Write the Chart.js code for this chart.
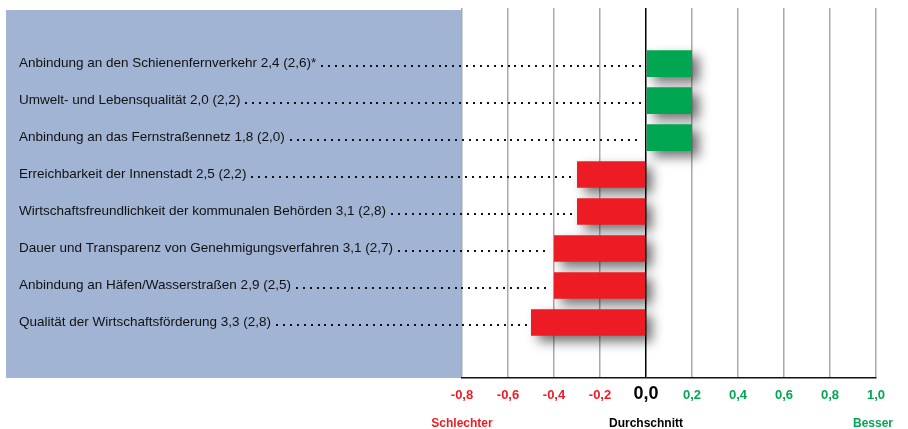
<!DOCTYPE html>
<html lang="de">
<head>
<meta charset="utf-8">
<title>Standortfaktoren im Vergleich zum Durchschnitt</title>
<script src="https://cdn.jsdelivr.net/npm/chart.js@4.4.1/dist/chart.umd.min.js"></script>
<style>
  html, body { margin: 0; padding: 0; background: #ffffff; }
  #wrap { width: 908px; height: 429px; position: relative; }
</style>
</head>
<body>
<div id="wrap"><canvas id="chart" width="908" height="429"></canvas></div>
<script>
// Standortfaktoren: eigene Note und (in Klammern) Durchschnittsnote
const factors = [
  'Anbindung an den Schienenfernverkehr',
  'Umwelt- und Lebensqualität',
  'Anbindung an das Fernstraßennetz',
  'Erreichbarkeit der Innenstadt',
  'Wirtschaftsfreundlichkeit der kommunalen Behörden',
  'Dauer und Transparenz von Genehmigungsverfahren',
  'Anbindung an Häfen/Wasserstraßen',
  'Qualität der Wirtschaftsförderung'
];
const scores   = [2.4, 2.0, 1.8, 2.5, 3.1, 3.1, 2.9, 3.3];
const averages = [2.6, 2.2, 2.0, 2.2, 2.8, 2.7, 2.5, 2.8];
const notes    = ['*', '', '', '', '', '', '', ''];

// Achsenbeschriftung der Abweichung
const xTicks = [-0.8, -0.6, -0.4, -0.2, 0.0, 0.2, 0.4, 0.6, 0.8, 1.0];
const xCaptions = ['Schlechter', 'Durchschnitt', 'Besser'];

const RED = '#ED1C24';
const GREEN = '#00A651';
const BLACK = '#000000';
const FONT = "'Liberation Sans', Arial, Helvetica, sans-serif";

const fmt = v => v.toFixed(1).replace('.', ',');

// Abweichung vom Durchschnitt (positiv = besser, da niedrigere Note besser ist)
const deviation = scores.map((s, i) => Math.round((averages[i] - s) * 10) / 10);

const rowLabels = factors.map((f, i) => `${f} ${fmt(scores[i])} (${fmt(averages[i])})${notes[i]}`);
// leere Zeile oben und unten als Rand
const labels = [''].concat(rowLabels, ['']);
const values = [null].concat(deviation, [null]);

const LABEL_SIZE = 13.5;
const LABEL_FONT = `${LABEL_SIZE}px ${FONT}`;
const PANEL = { left: 6, top: 10 };

const decorPlugin = {
  id: 'decor',
  beforeDraw(chart) {
    const { ctx, chartArea } = chart;
    ctx.save();
    ctx.fillStyle = '#A1B4D4';
    ctx.fillRect(PANEL.left, PANEL.top, chartArea.left - PANEL.left, chartArea.bottom - PANEL.top);
    ctx.restore();
  },
  beforeDatasetsDraw(chart) {
    // punktierte Führungslinien vom Text bis zum Balken
    const { ctx } = chart;
    const x = chart.scales.x, y = chart.scales.y;
    const zero = x.getPixelForValue(0);
    ctx.save();
    ctx.font = LABEL_FONT;
    ctx.fillStyle = '#111';
    labels.forEach((lab, i) => {
      if (!lab) return;
      const v = values[i];
      const cy = y.getPixelForValue(i);
      const start = y.left + ctx.measureText(lab).width + 5;
      const end = (v < 0 ? x.getPixelForValue(v) : zero) - 6;
      for (let px = start; px <= end; px += 6.9) {
        ctx.fillRect(Math.round(px), Math.round(cy + 1.5), 2, 2);
      }
    });
    ctx.restore();
  },
  beforeDatasetDraw(chart) {
    const { ctx } = chart;
    ctx.save();
    ctx.shadowColor = 'rgba(0,0,0,0.55)';
    ctx.shadowBlur = 12;
    ctx.shadowOffsetX = 7;
    ctx.shadowOffsetY = 6;
  },
  afterDatasetDraw(chart) {
    chart.ctx.restore();
  },
  afterDraw(chart) {
    const { ctx, chartArea } = chart;
    const x = chart.scales.x;
    ctx.save();
    ctx.textAlign = 'center';
    ctx.textBaseline = 'alphabetic';
    xTicks.forEach(v => {
      const px = x.getPixelForValue(v);
      if (v === 0) {
        ctx.font = `bold 18px ${FONT}`;
        ctx.fillStyle = BLACK;
      } else {
        ctx.font = `bold 13px ${FONT}`;
        ctx.fillStyle = v < 0 ? RED : GREEN;
      }
      ctx.fillText(fmt(v), px, chartArea.bottom + 21);
    });
    ctx.font = `bold 12px ${FONT}`;
    const capY = chartArea.bottom + 49;
    ctx.fillStyle = RED;
    ctx.fillText(xCaptions[0], x.getPixelForValue(-0.8), capY);
    ctx.fillStyle = BLACK;
    ctx.fillText(xCaptions[1], x.getPixelForValue(0), capY);
    ctx.fillStyle = GREEN;
    ctx.fillText(xCaptions[2], x.getPixelForValue(1.0) - 3, capY);
    ctx.restore();
  }
};

new Chart(document.getElementById('chart'), {
  type: 'bar',
  data: {
    labels: labels,
    datasets: [{
      data: values,
      backgroundColor: values.map(v => (v !== null && v < 0 ? RED : GREEN)),
      borderWidth: 0,
      barPercentage: 0.72,
      categoryPercentage: 1.0
    }]
  },
  options: {
    indexAxis: 'y',
    responsive: false,
    animation: false,
    layout: { padding: { left: 19, top: 8, right: 32, bottom: 0 } },
    plugins: {
      legend: { display: false },
      tooltip: { enabled: false },
      title: { display: false }
    },
    scales: {
      x: {
        type: 'linear',
        position: 'bottom',
        min: -0.8,
        max: 1.0,
        afterBuildTicks(scale) {
          scale.ticks = xTicks.map(v => ({ value: v }));
        },
        afterFit(scale) { scale.height = 51; },
        ticks: { display: false },
        grid: {
          drawTicks: false,
          color: c => (c.tick && c.tick.value === 0 ? '#000000' : '#A9A9A9'),
          lineWidth: 1.5
        },
        border: { display: true, color: '#111111', width: 1.5 }
      },
      y: {
        type: 'category',
        position: 'left',
        afterFit(scale) { scale.width = 462 - 19; },
        ticks: {
          crossAlign: 'far',
          color: '#111111',
          font: { family: FONT, size: LABEL_SIZE },
          autoSkip: false,
          padding: 0
        },
        grid: { display: false },
        border: { display: false }
      }
    }
  },
  plugins: [decorPlugin]
});
</script>
</body>
</html>
